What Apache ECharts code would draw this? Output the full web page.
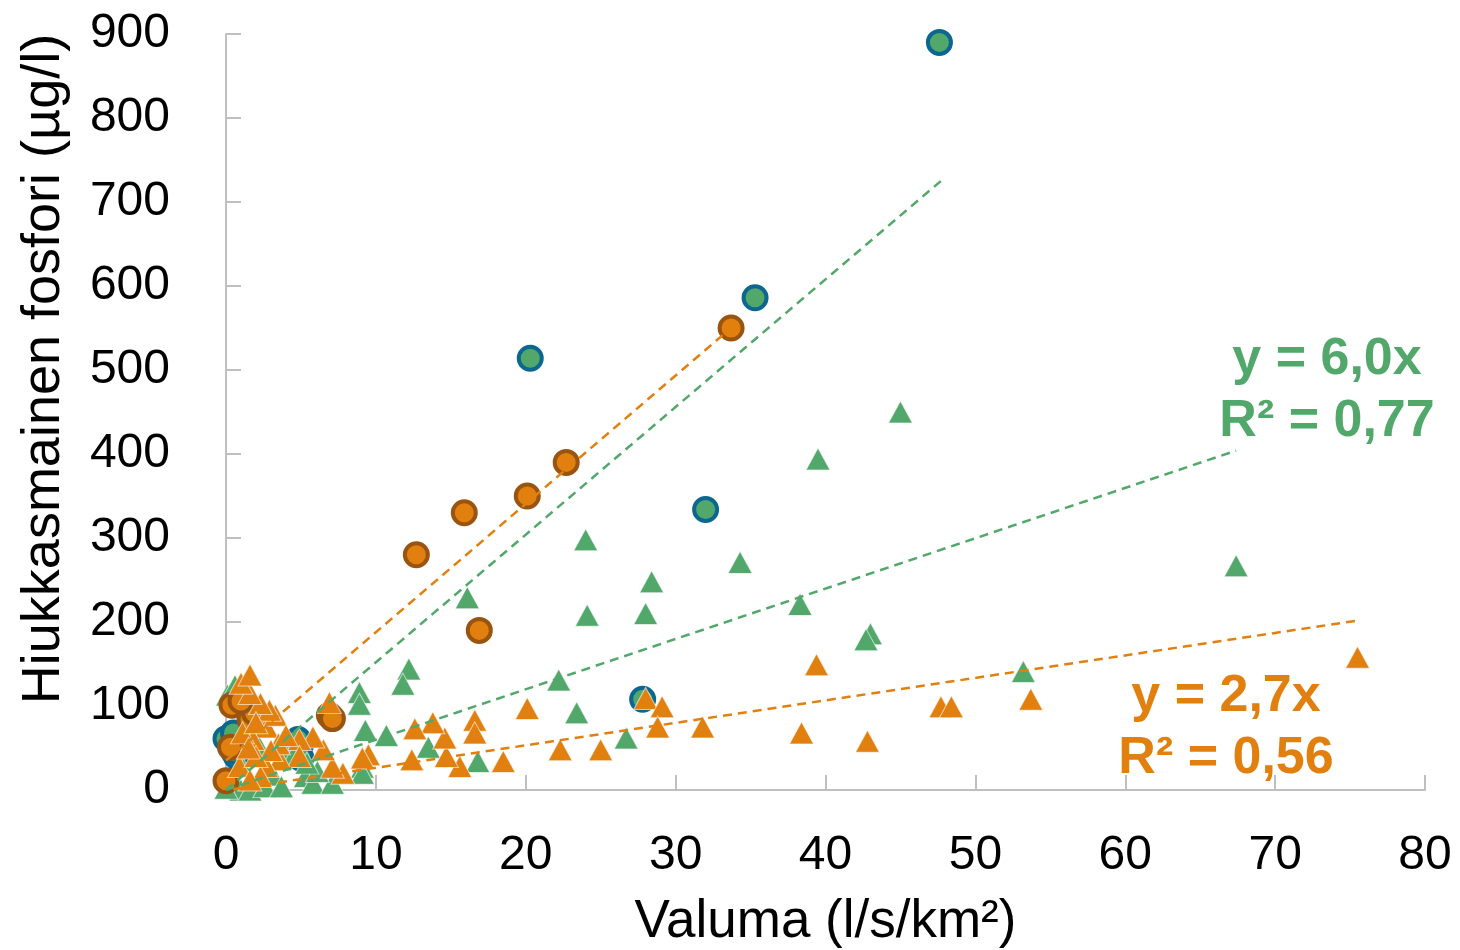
<!DOCTYPE html>
<html>
<head>
<meta charset="utf-8">
<title>Valuma ja hiukkasmainen fosfori</title>
<script src="https://cdn.jsdelivr.net/npm/echarts@6/dist/echarts.min.js"></script>
<style>
  html, body { margin: 0; padding: 0; background: #fff; }
  #container { width: 1460px; height: 950px; }
</style>
</head>
<body>
<div id="container"></div>
<script>
// [valuma, fosfori]
var greenCircles = [
    [47.6, 890], [35.3, 586], [20.3, 514], [32.0, 334], [27.8, 108],
    [5.0, 55], [4.8, 60], [5.0, 38], [0.0, 61], [0.5, 68], [0.7, 40], [0.5, 46]
];
var orangeCircles = [
    [33.7, 550], [22.7, 390], [20.1, 350], [15.9, 330], [12.7, 280], [16.9, 190],
    [6.9, 89], [7.1, 85], [0.0, 11], [0.4, 101], [0.3, 51], [1.6, 84], [1.9, 92], [1.0, 106]
];
var greenTriangles = [
    [45.0, 450], [39.5, 394], [24.0, 298], [34.3, 271], [28.4, 248], [67.4, 267],
    [38.3, 221], [16.1, 229], [24.1, 208], [28.0, 210], [43.0, 186], [42.7, 179],
    [53.2, 141], [22.2, 131], [12.2, 144], [11.8, 126], [23.4, 92], [26.7, 62],
    [16.8, 34], [8.9, 116], [8.9, 102], [9.3, 71], [10.7, 65], [13.5, 51],
    [9.1, 27], [0.1, 113], [0.6, 124], [1.0, 0], [1.6, 0], [0.0, 2],
    [3.1, 18], [3.9, 46], [4.5, 40], [5.3, 16], [5.8, 8], [7.1, 8],
    [2.6, 4], [3.7, 4], [9.1, 20], [2.2, 52], [1.0, 30], [6.1, 22], [5.4, 32]
];
var orangeTriangles = [
    [75.5, 158], [53.7, 108], [47.7, 99], [48.4, 99], [39.4, 149], [38.4, 68],
    [42.8, 58], [28.0, 109], [29.1, 99], [28.8, 75], [31.8, 75], [20.1, 97],
    [22.3, 48], [25.0, 48], [18.5, 34], [15.6, 28], [16.6, 83], [16.6, 68],
    [14.7, 40], [14.6, 62], [13.8, 80], [12.6, 73], [12.4, 36], [9.5, 42],
    [9.1, 38], [7.8, 20], [7.1, 27], [6.5, 48], [5.8, 63], [4.9, 60],
    [4.9, 40], [3.6, 36], [2.7, 75], [3.3, 89], [2.9, 95], [2.3, 103],
    [1.6, 115], [1.0, 127], [1.6, 137], [1.8, 60], [1.1, 68], [0.9, 28],
    [2.7, 28], [2.3, 16], [1.6, 12], [6.9, 104], [2.0, 80], [3.5, 55],
    [4.0, 65], [3.0, 47], [2.0, 40], [1.5, 50]
];

// trendline end points
var greenCircleTrend = [[0.0, 0], [47.7, 725]];
var orangeCircleTrend = [[0.0, 35], [33.7, 550]];
var greenTriangleTrend = [[0.0, 0], [67.4, 404]];
var orangeTriangleTrend = [[0.5, 1], [75.6, 202]];

var greenLabel = 'y = 6,0x\nR² = 0,77';
var orangeLabel = 'y = 2,7x\nR² = 0,56';

var GREEN = '#52a86b';
var ORANGE = '#e2800f';
var BLUE = '#0b6790';
var BROWN = '#995410';
var AXIS = '#bfbfbf';
var FONT = '"Liberation Sans", Arial, sans-serif';

function circleSeries(data, fill, border) {
    return {
        type: 'scatter',
        data: data,
        symbol: 'circle',
        symbolSize: 23,
        itemStyle: { color: fill, borderColor: border, borderWidth: 4, opacity: 1 },
        silent: true
    };
}

function triangleSeries(data, fill) {
    return {
        type: 'scatter',
        data: data,
        symbol: 'triangle',
        symbolSize: [24, 22],
        itemStyle: { color: fill, borderColor: 'rgba(255,255,255,0.6)', borderWidth: 1, opacity: 1 },
        silent: true
    };
}

function trendSeries(data, color) {
    return {
        type: 'line',
        data: data,
        showSymbol: false,
        z: 5,
        lineStyle: { color: color, width: 2.5, type: [9, 6] },
        silent: true
    };
}

var myChart = echarts.init(document.getElementById('container'), null, { renderer: 'canvas' });

var option = {
    backgroundColor: '#fff',
    animation: false,
    grid: { left: 226, right: 35, top: 34, bottom: 160, outerBoundsMode: 'none', containLabel: false },
    xAxis: {
        type: 'value',
        min: 0, max: 80, interval: 10,
        name: 'Valuma (l/s/km²)',
        nameLocation: 'middle',
        nameGap: 106,
        nameTextStyle: { fontFamily: FONT, fontSize: 53, color: '#000' },
        axisLine: { show: true, lineStyle: { color: AXIS, width: 2 } },
        axisTick: { show: true, inside: true, length: 15, lineStyle: { color: AXIS, width: 2 } },
        axisLabel: { fontFamily: FONT, fontSize: 48, color: '#000', margin: 42 },
        splitLine: { show: false }
    },
    yAxis: {
        type: 'value',
        min: 0, max: 900, interval: 100,
        name: 'Hiukkasmainen fosfori (µg/l)',
        nameLocation: 'middle',
        nameGap: 155,
        nameTextStyle: { fontFamily: FONT, fontSize: 54, color: '#000', padding: [0, 0, 0, 86] },
        axisLine: { show: true, lineStyle: { color: AXIS, width: 2 } },
        axisTick: { show: true, inside: true, length: 15, lineStyle: { color: AXIS, width: 2 } },
        axisLabel: { fontFamily: FONT, fontSize: 48, color: '#000', margin: 56 },
        splitLine: { show: false }
    },
    series: [
        circleSeries(greenCircles, GREEN, BLUE),
        triangleSeries(greenTriangles, GREEN),
        circleSeries(orangeCircles, ORANGE, BROWN),
        triangleSeries(orangeTriangles, ORANGE),
        trendSeries(greenCircleTrend, GREEN),
        trendSeries(orangeCircleTrend, ORANGE),
        trendSeries(greenTriangleTrend, GREEN),
        trendSeries(orangeTriangleTrend, ORANGE)
    ],
    graphic: [
        {
            type: 'text', x: 1327, y: 329, z: 10,
            style: {
                text: greenLabel, fill: GREEN, textAlign: 'center', textVerticalAlign: 'top',
                font: 'bold 52px ' + FONT, lineHeight: 62
            }
        },
        {
            type: 'text', x: 1226, y: 666, z: 10,
            style: {
                text: orangeLabel, fill: ORANGE, textAlign: 'center', textVerticalAlign: 'top',
                font: 'bold 52px ' + FONT, lineHeight: 62
            }
        }
    ]
};

myChart.setOption(option);
</script>
</body>
</html>
